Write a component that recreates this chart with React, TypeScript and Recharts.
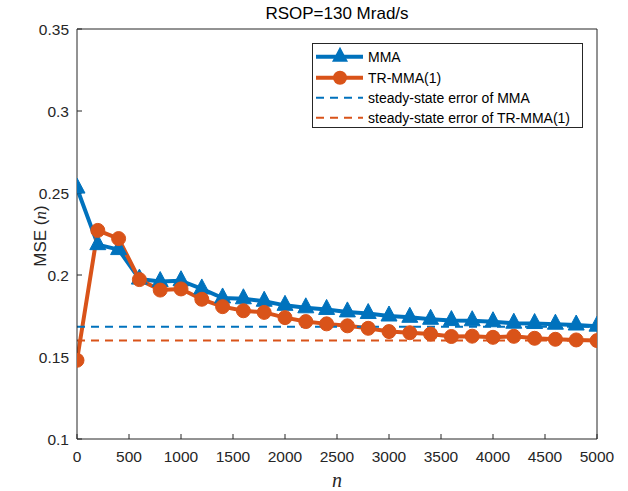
import { Legend, Line, LineChart, ReferenceLine, XAxis, YAxis } from 'recharts';

// iteration index n (one marker every 200 samples)
const nValues = [
    0, 200, 400, 600, 800, 1000, 1200, 1400, 1600, 1800, 2000, 2200, 2400, 2600, 2800, 3000, 3200, 3400, 3600, 3800,
    4000, 4200, 4400, 4600, 4800, 5000,
];
const mmaValues = [
    0.253, 0.2185, 0.2155, 0.1975, 0.196, 0.1965, 0.1915, 0.186, 0.1855, 0.184, 0.1815, 0.18, 0.179, 0.1775, 0.1765,
    0.175, 0.1742, 0.173, 0.1722, 0.1721, 0.1715, 0.1706, 0.1704, 0.17, 0.1695, 0.1688,
];
const trMmaValues = [
    0.148, 0.2272, 0.2222, 0.1972, 0.1908, 0.1915, 0.1852, 0.1807, 0.1782, 0.1772, 0.174, 0.1716, 0.1702, 0.169, 0.1675,
    0.1655, 0.1648, 0.164, 0.1625, 0.1627, 0.162, 0.1626, 0.1614, 0.1608, 0.1604, 0.16,
];
const mmaSteady = 0.1685;
const trMmaSteady = 0.16;

const xTicks = [0, 500, 1000, 1500, 2000, 2500, 3000, 3500, 4000, 4500, 5000];
const yTicks = [0.1, 0.15, 0.2, 0.25, 0.3, 0.35];
const seriesNames = ['MMA', 'TR-MMA(1)', 'steady-state error of MMA', 'steady-state error of TR-MMA(1)'];
const chartTitle = 'RSOP=130 Mrad/s';

const data = nValues.map((n, i) => ({ n, mma: mmaValues[i], trmma: trMmaValues[i] }));

const BLUE = '#0072BD';
const ORANGE = '#D95319';
const AXIS = '#262626';
const SANS = '"Liberation Sans", Arial, Helvetica, sans-serif';
const SERIF = '"Liberation Serif", "Times New Roman", serif';

function triPath(cx: number, cy: number) {
    return `M${cx},${cy - 10} L${cx + 8},${cy + 5} L${cx - 8},${cy + 5} Z`;
}

function TriangleDot(props: any) {
    const { cx, cy, index } = props;
    if (cx == null || cy == null) return <g key={`t-${index}`} />;
    return <path key={`t-${index}`} d={triPath(cx, cy)} fill={BLUE} stroke={BLUE} strokeWidth={1} />;
}

function CircleDot(props: any) {
    const { cx, cy, index } = props;
    if (cx == null || cy == null) return <g key={`c-${index}`} />;
    return <circle key={`c-${index}`} cx={cx} cy={cy} r={7} fill={ORANGE} stroke={ORANGE} strokeWidth={1} />;
}

function LegendBox() {
    const rows = [13.7, 34.7, 54.7, 74.7];
    return (
        <svg width={271} height={85} style={{ display: 'block' }}>
            <rect x={0.5} y={0.5} width={270} height={84} fill="#fff" stroke={AXIS} strokeWidth={1} />
            <line x1={4} x2={51} y1={rows[0]} y2={rows[0]} stroke={BLUE} strokeWidth={4} />
            <path d={triPath(28, rows[0])} fill={BLUE} />
            <line x1={4} x2={51} y1={rows[1]} y2={rows[1]} stroke={ORANGE} strokeWidth={4} />
            <circle cx={28} cy={rows[1]} r={7} fill={ORANGE} />
            <line x1={4} x2={51} y1={rows[2]} y2={rows[2]} stroke={BLUE} strokeWidth={2} strokeDasharray="8 6" />
            <line x1={4} x2={51} y1={rows[3]} y2={rows[3]} stroke={ORANGE} strokeWidth={2} strokeDasharray="8 6" />
            {seriesNames.map((name, i) => (
                <text key={name} x={56} y={rows[i]} dy="0.36em" fontSize={14} fontFamily={SANS} fill="#000">
                    {name}
                </text>
            ))}
        </svg>
    );
}

function YTitle(props: any) {
    const vb = props.viewBox || { x: 17, y: 29, width: 60, height: 410 };
    const cx = vb.x + 23;
    const cy = vb.y + vb.height / 2 + 2;
    return (
        <text
            x={cx}
            y={cy}
            transform={`rotate(-90 ${cx} ${cy})`}
            textAnchor="middle"
            dominantBaseline="central"
            fontSize={17}
            fontFamily={SANS}
            fill={AXIS}
        >
            MSE (<tspan fontFamily={SERIF} fontStyle="italic">n</tspan>)
        </text>
    );
}

function XTitle(props: any) {
    const vb = props.viewBox || { x: 77, y: 439, width: 520, height: 30 };
    return (
        <text x={vb.x + vb.width / 2} y={vb.y + 48} textAnchor="middle" fontSize={20} fontFamily={SERIF} fontStyle="italic" fill={AXIS}>
            n
        </text>
    );
}

function TopTitle(props: any) {
    const vb = props.viewBox || { x: 77, y: 28, width: 520, height: 1 };
    return (
        <text x={vb.x + vb.width / 2} y={vb.y - 9.5} textAnchor="middle" fontSize={17} fontFamily={SANS} fill="#000">
            {chartTitle}
        </text>
    );
}

export default function App() {
    const tickStyle = { fontSize: 15.5, fontFamily: SANS, fill: AXIS };
    return (
        <div style={{ position: 'absolute', left: 0, top: 0, background: '#fff' }}>
            <LineChart width={628} height={491} data={data} margin={{ top: 28, right: 30, bottom: 22, left: 17 }}>
                <XAxis
                    dataKey="n"
                    type="number"
                    domain={[0, 5000]}
                    ticks={xTicks}
                    interval={0}
                    allowDataOverflow
                    height={30}
                    tickSize={-5}
                    tickMargin={16.5}
                    tick={tickStyle}
                    stroke={AXIS}
                    label={{ content: (p: any) => <XTitle {...p} /> }}
                />
                <XAxis
                    xAxisId="top"
                    orientation="top"
                    type="number"
                    domain={[0, 5000]}
                    ticks={xTicks}
                    interval={0}
                    allowDataOverflow
                    height={1}
                    tickSize={-5}
                    tick={false}
                    stroke={AXIS}
                    label={{ content: (p: any) => <TopTitle {...p} /> }}
                />
                <YAxis
                    type="number"
                    domain={[0.1, 0.35]}
                    ticks={yTicks}
                    interval={0}
                    allowDataOverflow
                    width={60}
                    tickSize={-5}
                    tickMargin={13}
                    tick={tickStyle}
                    stroke={AXIS}
                    label={{ content: (p: any) => <YTitle {...p} /> }}
                />
                <YAxis
                    yAxisId="right"
                    orientation="right"
                    type="number"
                    domain={[0.1, 0.35]}
                    ticks={yTicks}
                    interval={0}
                    allowDataOverflow
                    width={1}
                    tickSize={-5}
                    tick={false}
                    stroke={AXIS}
                />
                <Line
                    dataKey="mma"
                    name={seriesNames[0]}
                    stroke={BLUE}
                    strokeWidth={4}
                    strokeLinejoin="round"
                    dot={(p: any) => <TriangleDot {...p} />}
                    activeDot={false}
                    isAnimationActive={false}
                />
                <Line
                    dataKey="trmma"
                    name={seriesNames[1]}
                    stroke={ORANGE}
                    strokeWidth={4}
                    strokeLinejoin="round"
                    dot={(p: any) => <CircleDot {...p} />}
                    activeDot={false}
                    isAnimationActive={false}
                />
                <ReferenceLine y={mmaSteady} stroke={BLUE} strokeWidth={2} strokeDasharray="8 6" />
                <ReferenceLine y={trMmaSteady} stroke={ORANGE} strokeWidth={2} strokeDasharray="8 6" />
                <Legend
                    layout="vertical"
                    align="center"
                    verticalAlign="middle"
                    wrapperStyle={{ left: 312, top: 43, width: 271, height: 85 }}
                    content={() => <LegendBox />}
                />
            </LineChart>
        </div>
    );
}
